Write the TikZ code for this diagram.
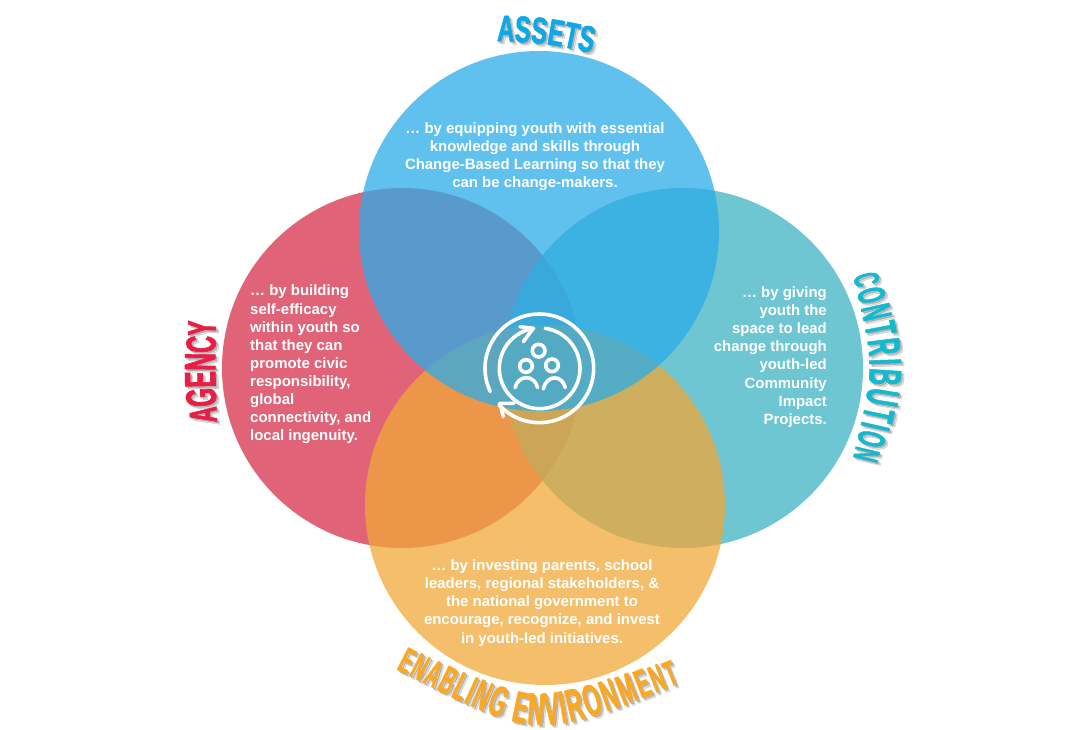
\documentclass[tikz,border=0pt]{standalone}
\usepackage{fontspec}
\setmainfont{Liberation Sans}
\newfontfamily\faa{Liberation Sans}[FakeStretch=.64,FakeBold=1.5]
\newfontfamily\fab{Liberation Sans}[FakeStretch=.56,FakeBold=1.5]
\newfontfamily\fac{Liberation Sans}[FakeStretch=.5,FakeBold=1]
\newcommand\lassets{\faa\bfseries\fontsize{37}{37}\selectfont}
\newcommand\lb[1]{\fab\bfseries\fontsize{#1}{#1}\selectfont}
\newcommand\lc[1]{\fac\bfseries\fontsize{#1}{#1}\selectfont}
\usetikzlibrary{decorations.text}
\definecolor{cTop}{RGB}{44,172,232}
\definecolor{cLeft}{RGB}{214,47,74}
\definecolor{cRight}{RGB}{60,179,195}
\definecolor{cBottom}{RGB}{240,168,58}
\definecolor{lTop}{RGB}{14,168,228}
\definecolor{lLeft}{RGB}{232,30,70}
\definecolor{lRight}{RGB}{20,185,205}
\definecolor{lBottom}{RGB}{250,168,35}
\tikzset{
  petal/.style={circle,minimum size=360pt,inner sep=0pt,fill opacity=.75,text opacity=1},
  body/.style={text=white,font=\bfseries\fontsize{14.95}{18.1}\selectfont,inner sep=0pt},
  iconline/.style={draw=white,line width=3.6pt,line cap=round,line join=round},
}
\newcommand\curved[3]{%
  \begin{scope}[shift={(1.5,1.5)},opacity=.16]
    \path[decorate,decoration={text along path,text align={fit to path},text color=black,text={#2}}] #3;
  \end{scope}
  \begin{scope}[shift={(3,3)},opacity=.12]
    \path[decorate,decoration={text along path,text align={fit to path},text color=black,text={#2}}] #3;
  \end{scope}
  \path[decorate,decoration={text along path,text align={fit to path},text color=#1,text={#2}}] #3;
}
\begin{document}
\begin{tikzpicture}[x=1pt,y=-1pt]
\useasboundingbox (0,0) rectangle (1087,730);
\node[petal,fill=cLeft] (agency) at (402,368) {};
\node[petal,fill=cRight] (contribution) at (683,368) {};
\node[petal,fill=cBottom] (environment) at (545,505) {};
\node[petal,fill=cTop] (assets) at (539,231) {};

\node[body,align=center] (tassets) at (535,156.5) {… by equipping youth with essential\\knowledge and skills through\\Change-Based Learning so that they\\can be change-makers.};
\node[body,align=left,anchor=west] (tagency) at (250,364.5) {… by building\\self-efficacy\\within youth so\\that they can\\promote civic\\responsibility,\\global\\connectivity, and\\local ingenuity.};
\node[body,align=right,anchor=east] (tcontrib) at (827,357) {… by giving\\youth the\\space to lead\\change through\\youth-led\\Community\\Impact\\Projects.};
\node[body,align=center] (tenv) at (542,603) {… by investing parents, school\\leaders, regional stakeholders, \&\\the national government to\\encourage, recognize, and invest\\in youth-led initiatives.};

\curved{lTop}{|\lassets|ASSETS}{(497,41) .. controls (545,43) .. (592,53)}
\curved{lLeft}{|\lb{39}|A|\lb{43}|G|\lb{44}|E|\lb{44}|N|\lb{42}|C|\lb{40}|Y}{(217,422) .. controls (215,375) .. (216,321)}
\curved{lRight}{|\lc{36}|C|\lc{39}|O|\lc{42}|N|\lc{44}|T|\lc{46}|R|\lc{46}|I|\lc{46}|B|\lc{46}|U|\lc{44}|T|\lc{42}|I|\lc{39}|O|\lc{36}|N}{(853,276) .. controls (875,367) .. (853,458)}
\curved{lBottom}{|\lc{36}|E|\lc{37}|N|\lc{38}|A|\lc{39}|B|\lc{40}|L|\lc{41}|I|\lc{42}|N|\lc{43}|G |\lc{44}|E|\lc{45}|N|\lc{46}|V|\lc{46}|I|\lc{46}|R|\lc{45}|O|\lc{44}|N|\lc{42}|M|\lc{40}|E|\lc{38}|N|\lc{36}|T}{(396,669) .. controls (537,741) .. (680,683)}

\begin{scope}[shift={(440,290)},x=.33333pt,y=-.33333pt]
  \draw[iconline] plot[domain=154.7:498,samples=90] ({298+163*cos(\x)},{235+163*sin(\x)});
  \draw[iconline] plot[domain=278:621.5,samples=90] ({299+121*cos(\x)},{235+121*sin(\x)});
  \draw[iconline] (240,110) -- (280,115) -- (250,155);
  \draw[iconline] (222,340) -- (180,340) -- (190,380);
  \draw[iconline] (296,182) circle [radius=19];
  \draw[iconline] (258,228) circle [radius=19];
  \draw[iconline] (336,226) circle [radius=19];
  \draw[iconline] (225,293) .. controls (235,253) and (283,253) .. (293,293);
  \draw[iconline] (310,297) .. controls (320,253) and (366,253) .. (376,293);
\end{scope}
\end{tikzpicture}
\end{document}
